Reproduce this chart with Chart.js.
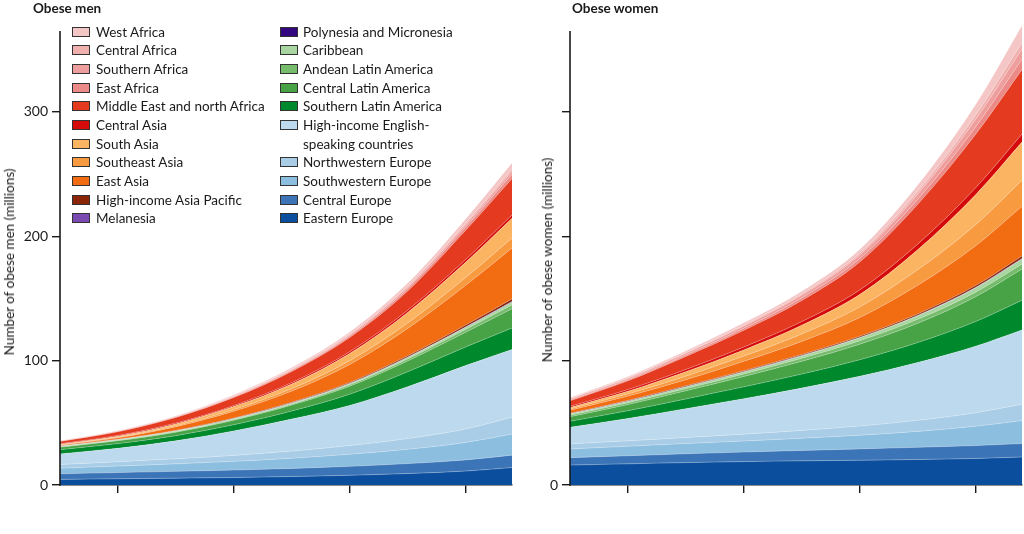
<!DOCTYPE html>
<html><head><meta charset="utf-8">
<script src="https://cdn.jsdelivr.net/npm/chart.js@4/dist/chart.umd.min.js"></script>
<style>
html,body{margin:0;padding:0;background:#fff;}
body{width:1024px;height:534px;position:relative;overflow:hidden;font-family:Lato,"Open Sans",sans-serif;color:#1a1a1a;}
canvas{position:absolute;top:0;}
#men{left:0;}
#women{left:520px;}
.ptitle{position:absolute;top:0;font-weight:bold;font-size:13.5px;line-height:16px;white-space:nowrap;}
.ytitle{position:absolute;font-size:13.5px;line-height:16px;white-space:nowrap;transform:translate(-50%,-50%) rotate(-90deg);}
.lg{position:absolute;font-size:13.5px;line-height:16px;white-space:nowrap;}
.sw{position:absolute;width:16px;height:8px;border:1px solid #333;}
</style></head>
<body>
<canvas id="men" width="520" height="534"></canvas>
<canvas id="women" width="504" height="534"></canvas>
<div class="ptitle" style="left:33px;">Obese men</div>
<div class="ptitle" style="left:572px;">Obese women</div>
<div class="ytitle" style="left:8.5px;top:262px;">Number of obese men (millions)</div>
<div class="ytitle" style="left:547px;top:260px;">Number of obese women (millions)</div>
<div id="legend"></div>
<script>
const years = [1975, 1980, 1985, 1990, 1995, 2000, 2005, 2010, 2014];
const xTickYears = [1980, 1990, 2000, 2010];
const yTickValues = [0, 100, 200, 300];
const yAxisTop = 365;

// regions listed from the bottom of the stack to the top
const regions = ['Eastern Europe','Central Europe','Southwestern Europe','Northwestern Europe','High-income English-speaking countries','Southern Latin America','Central Latin America','Andean Latin America','Caribbean','Polynesia and Micronesia','Melanesia','High-income Asia Pacific','East Asia','Southeast Asia','South Asia','Central Asia','Middle East and north Africa','East Africa','Southern Africa','Central Africa','West Africa'];
const regionColors = ['#0b4e9d','#3c75b7','#8cbee0','#a9cde7','#bdd9ed','#00882c','#48a347','#77bb6c','#a8d5a0','#33087f','#7a4ab0','#8a2508','#f26c12','#f79a40','#fbb461','#d50a0a','#e33a20','#eb8a87','#ee9e9c','#f0b0ae','#f5c6c6'];

// obese men (millions)
const menEasternEurope = [4.5,5,5.5,6,6.8,7.8,9.2,11.2,14];
const menCentralEurope = [4.5,5,5.5,6,6.5,7.2,8,9,10];
const menSouthwesternEurope = [4.5,5.2,6,7,8.2,9.7,11.5,14,17];
const menNorthwesternEurope = [3,3.5,4.1,4.8,5.8,7,8.6,10.8,13.4];
const menHighIncomeEnglish = [8.5,10.8,14.4,19.7,25.7,32.3,41.7,51,54.6];
const menSouthernLatinAmerica = [3.4,3.8,4.2,5,6.5,9,12,15,17.2];
const menCentralLatinAmerica = [2,2.3,2.8,3.6,4.8,6.5,8.8,11.8,15.5];
const menAndeanLatinAmerica = [0.3,0.35,0.45,0.6,0.8,1.1,1.6,2.3,3.1];
const menCaribbean = [0.3,0.35,0.42,0.5,0.65,0.85,1.15,1.6,2.2];
const menPolynesiaMicronesia = [0.05,0.06,0.07,0.08,0.1,0.12,0.15,0.2,0.25];
const menMelanesia = [0.02,0.03,0.04,0.05,0.06,0.08,0.1,0.15,0.2];
const menHighIncomeAsiaPacific = [0.3,0.35,0.42,0.5,0.62,0.8,1.05,1.5,2.2];
const menEastAsia = [0.6,1.2,3,5.5,9,14.5,22,32,41];
const menSoutheastAsia = [0.3,0.5,0.8,1.3,2,3,4.4,6.2,8];
const menSouthAsia = [0.45,0.8,1.4,2.4,3.7,5.8,8.5,12.3,15.8];
const menCentralAsia = [0.5,0.6,0.7,0.85,1.1,1.4,1.8,2.2,2.7];
const menMiddleEastNorthAfrica = [1.8,3,4.5,6.5,9,11.5,15.5,23.5,29.2];
const menEastAfrica = [0.15,0.27,0.4,0.6,0.85,1.2,1.8,2.6,3.5];
const menSouthernAfrica = [0.2,0.3,0.4,0.55,0.75,1,1.4,2,2.5];
const menCentralAfrica = [0.08,0.12,0.18,0.28,0.4,0.6,0.9,1.3,1.8];
const menWestAfrica = [0.15,0.32,0.5,0.75,1.1,1.6,2.2,3.3,4.8];

// obese women (millions)
const womenEasternEurope = [16,17,18,18.8,19.4,19.9,20.5,21.3,22.5];
const womenCentralEurope = [6,6.5,7.1,7.7,8.4,9.1,9.8,10.4,10.8];
const womenSouthwesternEurope = [7,7.6,8.2,8.9,9.8,11,12.8,15.5,18.5];
const womenNorthwesternEurope = [4,4.4,4.9,5.5,6.3,7.4,8.9,10.9,13.2];
const womenHighIncomeEnglish = [13.4,18,23.2,28.5,34,40,46.5,53.5,59.7];
const womenSouthernLatinAmerica = [4.8,6.2,7.8,9.5,11.3,13.3,16,19.8,23.9];
const womenCentralLatinAmerica = [3.7,5,6.6,8.4,10.3,12.5,15.5,20,25];
const womenAndeanLatinAmerica = [1.2,1.4,1.7,2,2.4,2.8,3.2,3.6,4];
const womenCaribbean = [0.9,1.1,1.3,1.6,1.9,2.3,2.8,3.4,4];
const womenPolynesiaMicronesia = [0.1,0.12,0.14,0.16,0.18,0.2,0.22,0.25,0.28];
const womenMelanesia = [0.05,0.06,0.07,0.08,0.1,0.12,0.15,0.2,0.22];
const womenHighIncomeAsiaPacific = [0.5,0.6,0.7,0.8,0.9,1,1.2,1.5,2];
const womenEastAsia = [2.5,3.5,5,7.5,10.5,15,23,32,40];
const womenSoutheastAsia = [1,1.8,2.8,4.2,6,8.5,12.5,17,21];
const womenSouthAsia = [1.1,2.1,3.6,5,7,10,16,24,30.6];
const womenCentralAsia = [1,1.4,1.8,2.3,2.9,3.7,4.6,5.6,6.6];
const womenMiddleEastNorthAfrica = [4.4,7,10.5,13.5,17,22.5,32,43,51.7];
const womenEastAfrica = [0.7,0.9,1.2,1.6,2,2.7,4,6,8.5];
const womenSouthernAfrica = [0.8,1.1,1.4,1.8,2.3,3,4.2,6,8];
const womenCentralAfrica = [0.4,0.5,0.65,0.9,1.1,1.5,2.3,3.5,5];
const womenWestAfrica = [0.8,1,1.3,1.7,2.1,2.9,5,8.5,14];

const menSeries = [menEasternEurope,menCentralEurope,menSouthwesternEurope,menNorthwesternEurope,menHighIncomeEnglish,menSouthernLatinAmerica,menCentralLatinAmerica,menAndeanLatinAmerica,menCaribbean,menPolynesiaMicronesia,menMelanesia,menHighIncomeAsiaPacific,menEastAsia,menSoutheastAsia,menSouthAsia,menCentralAsia,menMiddleEastNorthAfrica,menEastAfrica,menSouthernAfrica,menCentralAfrica,menWestAfrica];
const womenSeries = [womenEasternEurope,womenCentralEurope,womenSouthwesternEurope,womenNorthwesternEurope,womenHighIncomeEnglish,womenSouthernLatinAmerica,womenCentralLatinAmerica,womenAndeanLatinAmerica,womenCaribbean,womenPolynesiaMicronesia,womenMelanesia,womenHighIncomeAsiaPacific,womenEastAsia,womenSoutheastAsia,womenSouthAsia,womenCentralAsia,womenMiddleEastNorthAfrica,womenEastAfrica,womenSouthernAfrica,womenCentralAfrica,womenWestAfrica];

const INK = '#1a1a1a';
const yAxisLine = {
  id: 'yAxisLine',
  afterDraw(chart) {
    const y = chart.scales.y, ctx = chart.ctx, x = chart.chartArea.left;
    ctx.save();
    ctx.strokeStyle = INK; ctx.lineWidth = 1.6;
    ctx.beginPath();
    ctx.moveTo(x, y.getPixelForValue(0) + 0.8);
    ctx.lineTo(x, y.getPixelForValue(yAxisTop));
    ctx.stroke();
    ctx.restore();
  }
};

function makeChart(id, series, yWidth, padRight, showAllLabels) {
  const datasets = regions.map((name, i) => ({
    label: name,
    data: years.map((yr, j) => ({x: yr, y: series[i][j]})),
    backgroundColor: regionColors[i],
    borderColor: 'rgba(255,255,255,0.45)',
    borderWidth: 0.6,
    fill: i === 0 ? 'origin' : '-1',
    pointRadius: 0,
    cubicInterpolationMode: 'monotone'
  }));
  return new Chart(document.getElementById(id), {
    type: 'line',
    data: {datasets},
    plugins: [yAxisLine],
    options: {
      responsive: false, animation: false, events: [],
      layout: {padding: {top: 7.5, right: padRight, left: 0, bottom: 0}},
      plugins: {legend: {display: false}, tooltip: {enabled: false}},
      scales: {
        x: {
          type: 'linear', min: 1975, max: 2014,
          afterBuildTicks: s => { s.ticks = xTickYears.map(v => ({value: v})); },
          afterFit: s => { s.height = 49; },
          ticks: {display: false},
          grid: {drawOnChartArea: false, drawTicks: true, tickLength: 8, color: INK, lineWidth: 1.4},
          border: {display: true, color: INK, width: 1.6}
        },
        y: {
          stacked: true, min: 0, max: 380,
          afterBuildTicks: s => { s.ticks = yTickValues.map(v => ({value: v})); },
          afterFit: s => { s.width = yWidth; },
          ticks: {
            color: INK, padding: 4,
            font: {family: 'Lato', size: 14},
            callback: v => (showAllLabels || v === 0) ? String(v) : ''
          },
          grid: {drawOnChartArea: false, drawTicks: true, tickLength: 8, color: INK, lineWidth: 1.4},
          border: {display: false}
        }
      }
    }
  });
}

makeChart('men', menSeries, 60, 8, true);
makeChart('women', womenSeries, 50, 2, false);

// legend: top of stack first, two columns
const legendOrder = regions.map((r, i) => ({name: r, color: regionColors[i]})).reverse();
const legendEl = document.getElementById('legend');
const rowY0 = 31.7, rowStep = 18.65;
const cols = [{sw: 72, tx: 96, items: legendOrder.slice(0, 11)}, {sw: 280, tx: 303, items: legendOrder.slice(11)}];
cols.forEach(col => {
  let row = 0;
  col.items.forEach(it => {
    const cy = rowY0 + row * rowStep;
    const sw = document.createElement('div');
    sw.className = 'sw';
    sw.style.left = col.sw + 'px';
    sw.style.top = (cy - 5) + 'px';
    sw.style.background = it.color;
    legendEl.appendChild(sw);
    const lines = it.name === 'High-income English-speaking countries' ? ['High-income English-', 'speaking countries'] : [it.name];
    lines.forEach(t => {
      const d = document.createElement('div');
      d.className = 'lg';
      d.textContent = t;
      d.style.left = col.tx + 'px';
      d.style.top = (rowY0 + row * rowStep - 8) + 'px';
      legendEl.appendChild(d);
      row++;
    });
  });
});
</script>
</body></html>
